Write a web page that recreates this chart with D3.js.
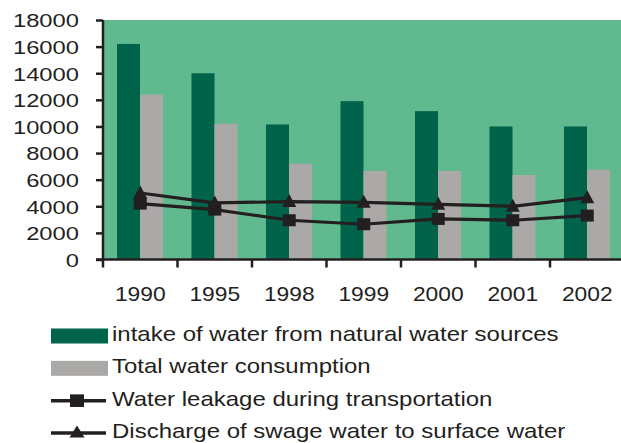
<!DOCTYPE html>
<html>
<head>
<meta charset="utf-8">
<script src="https://cdn.jsdelivr.net/npm/d3@7"></script>
<style>
  body { margin: 0; background: #fff; }
  svg { display: block; font-family: "Liberation Sans", Arial, sans-serif; }
</style>
</head>
<body>
<script>
const years = ['1990', '1995', '1998', '1999', '2000', '2001', '2002'];
const intake = [16200, 14000, 10150, 11900, 11150, 10000, 10000];
const consumption = [12400, 10200, 7200, 6650, 6650, 6350, 6750];
const leakage = [4200, 3750, 2950, 2650, 3050, 2950, 3300];
const discharge = [5000, 4250, 4350, 4300, 4150, 4000, 4650];
const yTicks = [0, 2000, 4000, 6000, 8000, 10000, 12000, 14000, 16000, 18000];
const legendLabels = [
  'intake of water from natural water sources',
  'Total water consumption',
  'Water leakage during transportation',
  'Discharge of swage water to surface water'
];

const w = 621, h = 443;
const plotLeft = 103, plotTop = 20, plotBottom = 259.5;
const ink = '#231f20';

const svg = d3.select('body').append('svg').attr('width', w).attr('height', h);

const x = d3.scaleBand().domain(years).range([plotLeft, plotLeft + 74.5 * years.length]);
const x1 = d3.scaleBand().domain(['intake', 'consumption']).range([14, x.bandwidth() - 14.5]);
const y = d3.scaleLinear().domain([0, 18000]).range([plotBottom, plotTop]);

// plot background
svg.append('rect')
  .attr('x', plotLeft).attr('y', plotTop)
  .attr('width', w - plotLeft).attr('height', plotBottom - plotTop)
  .attr('fill', '#61b98f');

// bars
const bars = [
  { key: 'intake', values: intake, color: '#00634a' },
  { key: 'consumption', values: consumption, color: '#aba9a7' }
];
bars.forEach(s => {
  svg.append('g').selectAll('rect')
    .data(s.values)
    .join('rect')
    .attr('x', (d, i) => x(years[i]) + x1(s.key))
    .attr('y', d => y(d))
    .attr('width', x1.bandwidth())
    .attr('height', d => y(0) - y(d))
    .attr('fill', s.color);
});

// lines
const line = d3.line()
  .x((d, i) => x(years[i]) + x.bandwidth() / 2)
  .y(d => y(d));

const tri = (wd, up, down) => `M0,${-up}L${wd / 2},${down}L${-wd / 2},${down}Z`;

[discharge, leakage].forEach(vals => {
  svg.append('path')
    .datum(vals)
    .attr('d', line)
    .attr('fill', 'none')
    .attr('stroke', ink)
    .attr('stroke-width', 3.2);
});
[{ values: leakage, marker: 'sq' }, { values: discharge, marker: 'tri' }].forEach(s => {
  const g = svg.append('g').selectAll('g')
    .data(s.values)
    .join('g')
    .attr('transform', (d, i) => `translate(${x(years[i]) + x.bandwidth() / 2},${y(d)})`);
  if (s.marker === 'sq') {
    g.append('rect').attr('x', -6.5).attr('y', -6).attr('width', 13).attr('height', 12).attr('fill', ink);
  } else {
    g.append('path').attr('d', tri(14, 7.5, 5.5)).attr('fill', ink);
  }
});

// y axis
const yAxis = d3.axisLeft(y).tickValues(yTicks).tickSize(7).tickFormat(d3.format('d'));
const yg = svg.append('g').attr('transform', `translate(${plotLeft},0)`).call(yAxis);
yg.select('.domain').remove();
yg.append('line').attr('x1', 0).attr('x2', 0).attr('y1', plotTop).attr('y2', plotBottom + 8)
  .attr('stroke', ink).attr('stroke-width', 2.5);
yg.selectAll('.tick line').attr('stroke', ink).attr('stroke-width', 2.5);
yg.selectAll('.tick text')
  .attr('x', 0).attr('dy', '0.36em')
  .attr('transform', 'translate(-24,0) scale(1.25,1)')
  .attr('font-size', 19).attr('fill', ink);

// x axis
const xAxis = d3.axisBottom(x).tickSize(0).tickPadding(0);
const xg = svg.append('g').attr('transform', `translate(0,${plotBottom})`).call(xAxis);
xg.select('.domain').remove();
xg.append('line').attr('x1', plotLeft - 7).attr('x2', w).attr('y1', 0).attr('y2', 0)
  .attr('stroke', ink).attr('stroke-width', 2.5);
xg.selectAll('.tick text')
  .attr('y', 0).attr('dy', 0)
  .attr('transform', 'translate(0,41) scale(1.14,1)')
  .attr('font-size', 20).attr('fill', ink);
xg.selectAll('.sep')
  .data(years.slice(1).map(d => x(d)).concat([x(years[6]) + x.bandwidth()]))
  .join('line')
  .attr('class', 'sep')
  .attr('x1', d => d).attr('x2', d => d)
  .attr('y1', 0).attr('y2', 8)
  .attr('stroke', ink).attr('stroke-width', 2.5);

// legend
const lg = svg.append('g').attr('transform', 'translate(51,336)');
const row = d3.scalePoint().domain(legendLabels).range([0, 97]);
const items = lg.selectAll('g').data(legendLabels).join('g')
  .attr('transform', d => `translate(0,${row(d)})`);
items.filter((d, i) => i < 2).append('rect')
  .attr('x', 0).attr('y', -7.5).attr('width', 57).attr('height', 15)
  .attr('fill', (d, i) => bars[i].color);
items.filter((d, i) => i >= 2).append('line')
  .attr('x1', 0).attr('x2', 55).attr('y1', 0).attr('y2', 0)
  .attr('stroke', ink).attr('stroke-width', 3.5);
items.filter((d, i) => i === 2).append('rect')
  .attr('x', 19).attr('y', -6.3).attr('width', 14).attr('height', 12.6).attr('fill', ink);
items.filter((d, i) => i === 3).append('path')
  .attr('transform', 'translate(26,0)')
  .attr('d', tri(15, 7.5, 4.5)).attr('fill', ink);
items.append('text')
  .attr('transform', 'translate(61,5) scale(1.2,1)')
  .attr('font-size', 20)
  .attr('fill', ink)
  .text(d => d);
</script>
</body>
</html>
